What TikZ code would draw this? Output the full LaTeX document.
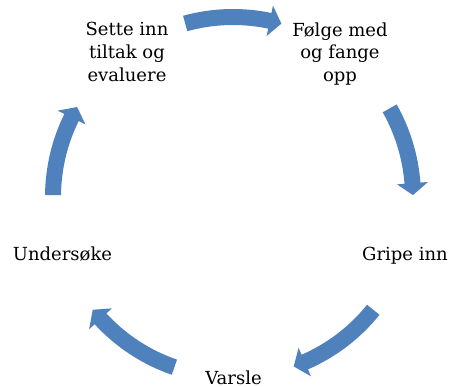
\documentclass[tikz,border=0pt]{standalone}
\usepackage{fontspec}
\setmainfont{DejaVu Serif}
\definecolor{arrowblue}{HTML}{4F81BD}
\tikzset{
  arrowfill/.style={fill=arrowblue},
  lbl/.style={inner sep=0pt, align=center, font=\fontsize{18}{22.8}\selectfont, text=black}
}
\newcommand\cycarrow[2]{%
  \pgfmathsetmacro\cyhb{#2+3.8}%
  \fill[arrowfill] (#1:188pt) arc[start angle=#1, end angle=\cyhb, radius=188pt]
    -- (\cyhb:195.5pt) -- (#2:180pt) -- (\cyhb:164.5pt) -- (\cyhb:172pt)
    arc[start angle=\cyhb, end angle=#1, radius=172pt] -- cycle;}
\begin{document}
\begin{tikzpicture}[x=1pt,y=1pt]
\useasboundingbox (-233,-190) rectangle (216,197);
% labels
\node[lbl, anchor=north] (sette) at (-106,174.7) {Sette inn\\tiltak og\\evaluere};
\node[lbl, anchor=north] (folge) at (107,174.7) {Følge med\\og fange\\opp};
\node[lbl, anchor=base] (gripe) at (172,-63.7) {Gripe inn};
\node[lbl, anchor=base] (varsle) at (0.5,-187) {Varsle};
\node[lbl, anchor=base] (under) at (-170.5,-63.7) {Undersøke};
% cycle arrows
\cycarrow{105.4}{74.4}
\cycarrow{29.5}{0.6}
\cycarrow{-38.8}{-70.3}
\cycarrow{251}{218.8}
\cycarrow{179.4}{150}
\end{tikzpicture}
\end{document}
